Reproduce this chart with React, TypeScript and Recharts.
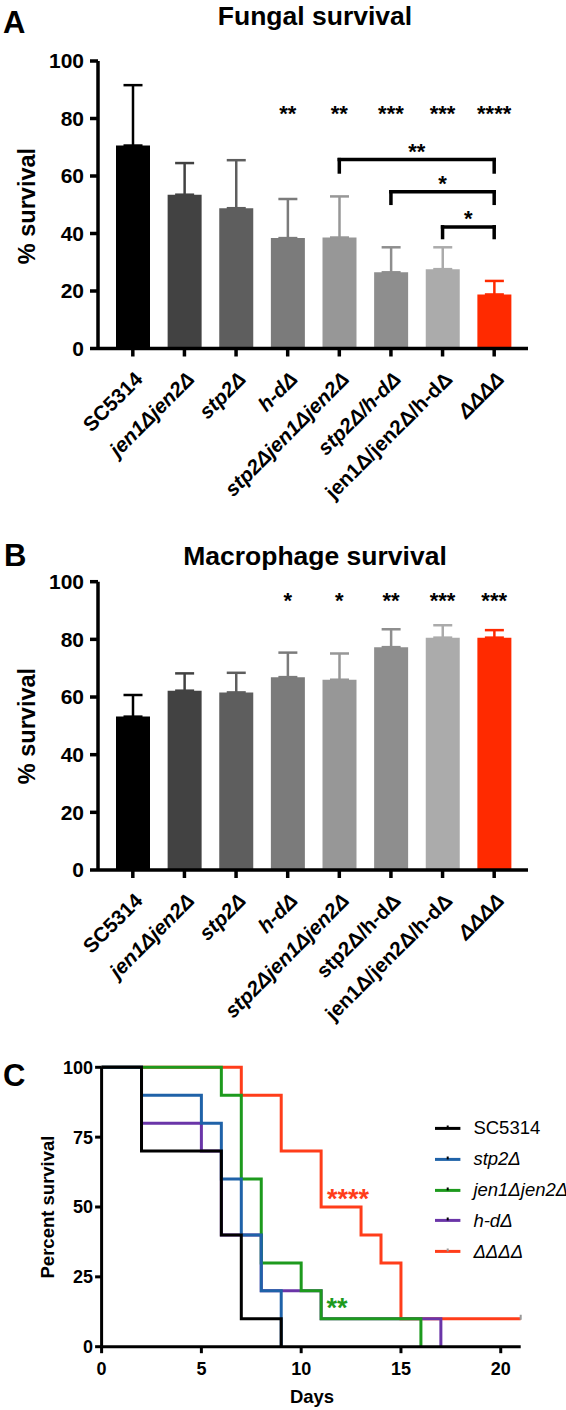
import React from 'react';
import {
  BarChart, Bar, Cell, XAxis, YAxis, ErrorBar, ReferenceDot, ReferenceLine,
  LineChart, Line, Legend,
} from 'recharts';

const FONT = '"Liberation Sans", Arial, Helvetica, sans-serif';

// ---------- Panels A & B data ----------
const strains = ['SC5314', 'jen1Δjen2Δ', 'stp2Δ', 'h-dΔ', 'stp2Δjen1Δjen2Δ', 'stp2Δ/h-dΔ', 'jen1Δ/jen2Δ/h-dΔ', 'ΔΔΔΔ'];
const barColors = ['#000000', '#424242', '#5e5e5e', '#7b7b7b', '#979797', '#8e8e8e', '#ababab', '#ff2a00'];

const fungalMean = [70.6, 53.5, 48.8, 38.4, 38.6, 26.5, 27.6, 18.8];
const fungalSD = [21.0, 11.0, 16.7, 13.6, 14.3, 8.7, 7.6, 4.7];
const fungalStars = ['', '', '', '**', '**', '***', '***', '****'];
const fungalItalic = [false, true, true, true, true, true, false, true];

const macroMean = [53.2, 62.2, 61.6, 66.9, 66.0, 77.3, 80.6, 80.6];
const macroSD = [7.5, 6.0, 6.8, 8.5, 9.1, 6.2, 4.3, 2.6];
const macroStars = ['', '', '', '*', '*', '**', '***', '***'];
const macroItalic = [false, true, true, true, true, false, false, true];

const barTicks = [0, 20, 40, 60, 80, 100];
const fungalStarY = 82;
const macroStarY = 93.7;

// comparison brackets (panel A): from index, to index, bracket level, drop level, label
const bracketFrom = [4, 5, 6];
const bracketTo = [7, 7, 7];
const bracketLevel = [65.7, 54.5, 42.3];
const bracketDrop = [61.4, 50.5, 38.6];
const bracketLabel = ['**', '*', '*'];

// ---------- Panel C data ----------
const scDays = [0, 2, 6, 7, 9];
const scSurv = [100, 70, 40, 10, 0];
const stp2Days = [0, 2, 5, 6, 7, 8, 9];
const stp2Surv = [100, 90, 80, 60, 40, 20, 0];
const jenDays = [0, 6, 7, 8, 10, 11, 16];
const jenSurv = [100, 90, 60, 30, 20, 10, 0];
const hdDays = [0, 2, 5, 6, 8, 11, 17];
const hdSurv = [100, 80, 70, 40, 20, 10, 0];
const quadDays = [0, 7, 9, 11, 13, 14, 15, 21];
const quadSurv = [100, 90, 70, 50, 40, 30, 10, 10];

const survNames = ['SC5314', 'stp2Δ', 'jen1Δjen2Δ', 'h-dΔ', 'ΔΔΔΔ'];
const survColors = ['#000000', '#1f62a8', '#1d9a1d', '#6a35a8', '#ff3d1a'];
const survItalic = [false, true, true, true, true];
const drawOrder = [4, 3, 2, 1, 0];
const dayTicks = [0, 5, 10, 15, 20];
const survTicks = [0, 25, 50, 75, 100];

const toRows = (days: number[], surv: number[]) => days.map((d, i) => ({ day: d, pct: surv[i] }));
const survData = [
  toRows(scDays, scSurv),
  toRows(stp2Days, stp2Surv),
  toRows(jenDays, jenSurv),
  toRows(hdDays, hdSurv),
  toRows(quadDays, quadSurv),
];

const buildBarRows = (mean: number[], sd: number[]) =>
  strains.map((name, i) => {
    const row: any = { name, mean: mean[i] };
    row['e' + i] = [0, sd[i]];
    return row;
  });

const fungalRows = buildBarRows(fungalMean, fungalSD);
const macroRows = buildBarRows(macroMean, macroSD);

const makeTick = (italic: boolean[]) => (props: any) => {
  const { x, y, payload } = props;
  const idx = strains.indexOf(payload.value);
  const ax = x + 11;
  const ay = y + 22;
  return (
    <text
      x={ax}
      y={ay}
      transform={`rotate(-45, ${ax}, ${ay})`}
      textAnchor="end"
      fontSize={20.5}
      fontWeight={700}
      fontStyle={italic[idx] ? 'italic' : 'normal'}
      fontFamily={FONT}
      fill="#000"
    >
      {payload.value}
    </text>
  );
};

const axisStyle = { stroke: '#000', strokeWidth: 3.5 };

function SurvivalBars(props: {
  rows: any[]; stars: string[]; italic: boolean[];
  starY: number; height: number; top: number; xHeight: number; brackets: boolean;
}) {
  const { rows, stars, italic, starY, height, top, xHeight, brackets } = props;
  return (
    <BarChart
      width={566}
      height={height}
      data={rows}
      margin={{ top, right: 38, left: 0, bottom: 0 }}
      style={{ fontFamily: FONT }}
    >
      <XAxis
        dataKey="name"
        interval={0}
        tickSize={8}
        tickMargin={2}
        height={xHeight}
        padding={{ left: 9, right: 8 }}
        axisLine={axisStyle}
        tickLine={axisStyle}
        tick={makeTick(italic)}
      />
      <YAxis
        width={98}
        domain={[0, 100]}
        ticks={barTicks}
        interval={0}
        tickSize={8}
        tickMargin={6}
        axisLine={axisStyle}
        tickLine={axisStyle}
        tick={{ fontSize: 21, fontWeight: 700, fill: '#000', fontFamily: FONT }}
      />
      <Bar dataKey="mean" barSize={34} isAnimationActive={false}>
        {barColors.map((c, i) => (
          <Cell key={'c' + i} fill={c} />
        ))}
        {barColors.map((c, i) => (
          <ErrorBar key={'eb' + i} dataKey={'e' + i} direction="y" width={9.5} stroke={c} strokeWidth={2.5} isAnimationActive={false} />
        ))}
      </Bar>
      {stars.map((s, i) =>
        s ? (
          <ReferenceDot
            key={'s' + i}
            x={strains[i]}
            y={starY}
            r={0}
            fill="none"
            stroke="none"
            label={{ value: s, position: 'center', fill: '#000', fontSize: 22, fontWeight: 700, fontFamily: FONT }}
          />
        ) : null
      )}
      {brackets &&
        bracketFrom.map((f, i) => (
          <ReferenceLine
            key={'bh' + i}
            segment={[{ x: strains[f], y: bracketLevel[i] }, { x: strains[bracketTo[i]], y: bracketLevel[i] }]}
            stroke="#000"
            strokeWidth={3.5}
            strokeLinecap="square"
            label={{ value: bracketLabel[i], position: 'top', offset: 1, fill: '#000', fontSize: 22, fontWeight: 700, fontFamily: FONT }}
          />
        ))}
      {brackets &&
        bracketFrom.map((f, i) => (
          <ReferenceLine
            key={'bl' + i}
            segment={[{ x: strains[f], y: bracketLevel[i] }, { x: strains[f], y: bracketDrop[i] }]}
            stroke="#000"
            strokeWidth={3.5}
            strokeLinecap="square"
          />
        ))}
      {brackets &&
        bracketFrom.map((f, i) => (
          <ReferenceLine
            key={'br' + i}
            segment={[{ x: strains[bracketTo[i]], y: bracketLevel[i] }, { x: strains[bracketTo[i]], y: bracketDrop[i] }]}
            stroke="#000"
            strokeWidth={3.5}
            strokeLinecap="square"
          />
        ))}
    </BarChart>
  );
}

const SurvLegend = (props: any) => {
  const payload = props.payload || [];
  return (
    <div style={{ fontFamily: FONT }}>
      {survNames.map((n, i) => {
        const item = payload.find((p: any) => p.value === n);
        const color = item ? item.color : survColors[i];
        return (
          <div key={n} style={{ height: 30.8, display: 'flex', alignItems: 'center' }}>
            <svg width={38} height={30.8} style={{ flex: 'none' }}>
              <line x1={0} x2={25.4} y1={15.4} y2={15.4} stroke={color} strokeWidth={3} />
              <line x1={12.7} x2={12.7} y1={12.5} y2={15.4} stroke={i === 4 ? '#999' : '#000'} strokeWidth={2} />
            </svg>
            <span style={{ fontSize: 18.5, fontStyle: survItalic[i] ? 'italic' : 'normal', color: '#000', whiteSpace: 'nowrap' }}>{n}</span>
          </div>
        );
      })}
    </div>
  );
};

function KaplanMeier() {
  return (
    <LineChart width={566} height={410} margin={{ top: 67.3, right: 45.3, left: 0, bottom: 0 }} style={{ fontFamily: FONT }}>
      <XAxis
        type="number"
        dataKey="day"
        domain={[0, 21]}
        ticks={dayTicks}
        interval={0}
        height={63.3}
        tickSize={6.5}
        tickMargin={9}
        axisLine={{ stroke: '#000', strokeWidth: 3 }}
        tickLine={{ stroke: '#000', strokeWidth: 3 }}
        tick={{ fontSize: 18, fontWeight: 700, fill: '#000', fontFamily: FONT }}
      />
      <YAxis
        type="number"
        width={101.6}
        domain={[0, 100]}
        ticks={survTicks}
        interval={0}
        tickSize={6.5}
        tickMargin={2}
        axisLine={{ stroke: '#000', strokeWidth: 3 }}
        tickLine={{ stroke: '#000', strokeWidth: 3 }}
        tick={{ fontSize: 18, fontWeight: 700, fill: '#000', fontFamily: FONT }}
      />
      {drawOrder.map((idx) => (
        <Line
          key={survNames[idx]}
          name={survNames[idx]}
          data={survData[idx]}
          dataKey="pct"
          type="stepAfter"
          stroke={survColors[idx]}
          strokeWidth={3}
          isAnimationActive={false}
          dot={
            idx === 4
              ? (p: any) =>
                  p.index === survData[idx].length - 1 ? (
                    <line key={'d' + p.index} x1={p.cx} x2={p.cx} y1={p.cy - 4} y2={p.cy + 1} stroke="#999" strokeWidth={2} />
                  ) : (
                    <g key={'d' + p.index} />
                  )
              : false
          }
        />
      ))}
      <ReferenceDot
        x={12.35}
        y={53}
        r={0}
        fill="none"
        stroke="none"
        label={{ value: '****', position: 'center', fill: survColors[4], fontSize: 27, fontWeight: 700, fontFamily: FONT }}
      />
      <ReferenceDot
        x={11.8}
        y={14}
        r={0}
        fill="none"
        stroke="none"
        label={{ value: '**', position: 'center', fill: survColors[2], fontSize: 27, fontWeight: 700, fontFamily: FONT }}
      />
      <Legend
        layout="horizontal"
        align="center"
        verticalAlign="middle"
        wrapperStyle={{ left: 435.4, top: 113, width: 131 }}
        content={SurvLegend}
      />
    </LineChart>
  );
}

export default function App() {
  const abs = (top: number): React.CSSProperties => ({ position: 'absolute', left: 0, top });
  return (
    <div style={{ position: 'absolute', left: 0, top: 0, width: 566, height: 1410, background: '#fff', fontFamily: FONT }}>
      <div style={abs(0)}>
        <SurvivalBars
          rows={fungalRows}
          stars={fungalStars}
          italic={fungalItalic}
          starY={fungalStarY}
          height={540}
          top={61}
          xHeight={191.5}
          brackets={true}
        />
      </div>
      <div style={abs(540)}>
        <SurvivalBars
          rows={macroRows}
          stars={macroStars}
          italic={macroItalic}
          starY={macroStarY}
          height={510}
          top={41.7}
          xHeight={180}
          brackets={false}
        />
      </div>
      <div style={abs(1000)}>
        <KaplanMeier />
      </div>
      <svg width={566} height={1410} style={{ position: 'absolute', left: 0, top: 0, pointerEvents: 'none' }}>
        <g fontFamily={FONT} fontWeight={700} fill="#000">
          <text x={3} y={33} fontSize={31}>A</text>
          <text x={315} y={25} fontSize={26.5} textAnchor="middle">Fungal survival</text>
          <text x={35} y={206} fontSize={23.5} textAnchor="middle" transform="rotate(-90, 35, 206)">% survival</text>

          <text x={4} y={566} fontSize={31}>B</text>
          <text x={315} y={565} fontSize={26.5} textAnchor="middle">Macrophage survival</text>
          <text x={35} y={726} fontSize={23.5} textAnchor="middle" transform="rotate(-90, 35, 726)">% survival</text>

          <text x={3} y={1086} fontSize={31}>C</text>
          <text x={54} y={1207} fontSize={18.5} textAnchor="middle" transform="rotate(-90, 54, 1207)">Percent survival</text>
          <text x={312} y={1403} fontSize={18.5} textAnchor="middle">Days</text>
        </g>
      </svg>
    </div>
  );
}
